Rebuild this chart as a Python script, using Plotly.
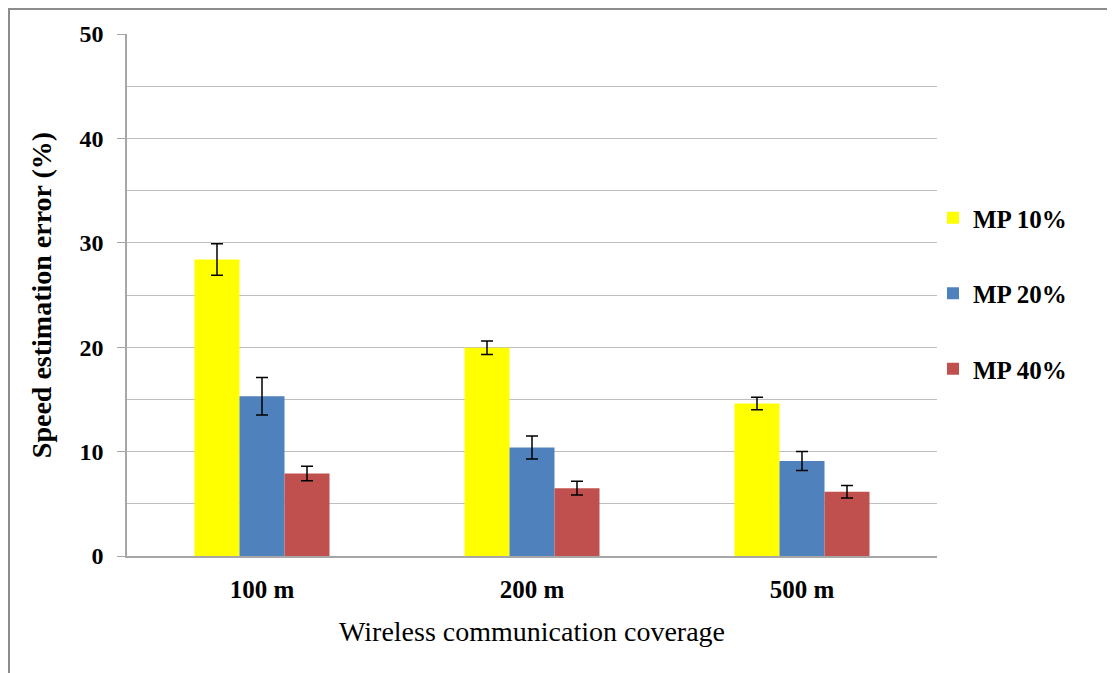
import plotly.graph_objects as go

categories = ["100 m", "200 m", "500 m"]
series_names = ["MP 10%", "MP 20%", "MP 40%"]
mp10 = [28.4, 19.95, 14.6]
mp20 = [15.3, 10.4, 9.1]
mp40 = [7.9, 6.5, 6.15]
err10 = [1.5, 0.65, 0.6]
err20 = [1.8, 1.1, 0.9]
err40 = [0.7, 0.65, 0.6]
colors = ["#FFFF00", "#4F81BD", "#C0504D"]
y_ticks = [0, 10, 20, 30, 40, 50]

OFF = 8  # page body margin
X0, Y0, X1, Y1 = 127, 34, 937, 556  # target plot area in page pixels
W, H = 1115 - OFF, 673 - OFF
L, T = X0 - OFF, Y0 - OFF
pw, ph = X1 - X0, Y1 - Y0
R = W - L - pw
B = H - T - ph

def px_x(x):
    return (x - X0) / pw

def px_y(y):
    return (Y1 - y) / ph

fig = go.Figure()
for name, vals, errs, col in zip(series_names, [mp10, mp20, mp40], [err10, err20, err40], colors):
    fig.add_trace(go.Bar(
        x=categories, y=vals, name=name, marker_color=col, marker_line_width=0,
        legendgroup=name,
        error_y=dict(type="data", array=errs, visible=True, color="black", thickness=1.5, width=6),
    ))

font_serif = "Liberation Serif, Times New Roman, serif"
fig.update_layout(
    width=W, height=H,
    margin=dict(l=L, r=R, t=T, b=B, autoexpand=False),
    paper_bgcolor="white", plot_bgcolor="white",
    barmode="group", bargap=0.5, bargroupgap=0,
    font=dict(family=font_serif, color="black"),
    showlegend=True,
    legend=dict(x=px_x(933), y=px_y(195), xanchor="left", yanchor="top",
                font=dict(size=25, family=font_serif, weight="bold"),
                tracegroupgap=40, itemwidth=30, bgcolor="rgba(0,0,0,0)"),
    xaxis=dict(showline=True, linecolor="#A6A6A6", linewidth=1.5, ticks="",
               tickfont=dict(size=25, family=font_serif, weight="bold"),
               ticklabelstandoff=10,
               title=dict(text="Wireless communication coverage",
                          font=dict(size=28, family=font_serif), standoff=20)),
    yaxis=dict(range=[0, 50], tickvals=y_ticks, showline=True, linecolor="#A6A6A6", linewidth=1.5,
               ticks="outside", ticklen=8, tickcolor="#A6A6A6",
               showgrid=True, gridcolor="#BFBFBF", gridwidth=1,
               minor=dict(dtick=5, showgrid=True, gridcolor="#BFBFBF", gridwidth=1, ticks=""),
               tickfont=dict(size=24, family=font_serif, weight="bold"),
               ticklabelstandoff=9,
               title=dict(text="Speed estimation error (%)",
                          font=dict(size=28, family=font_serif, weight="bold"), standoff=20)),
    shapes=[dict(type="rect", xref="paper", yref="paper",
                 x0=px_x(9), x1=px_x(1112), y0=px_y(720), y1=px_y(9),
                 line=dict(color="#8C8C8C", width=2), fillcolor="rgba(0,0,0,0)", layer="below")],
)

fig.write_html("out.html")
